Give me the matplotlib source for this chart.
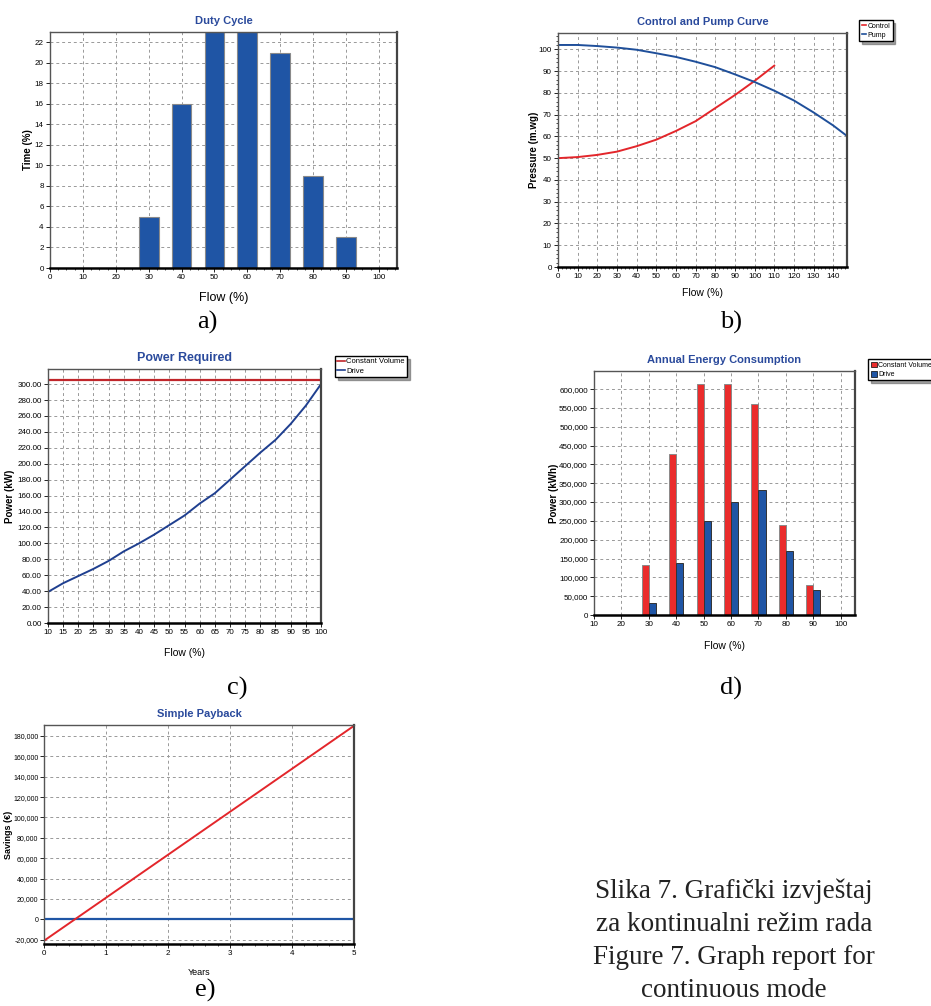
import numpy as np
import matplotlib
matplotlib.use("Agg")
from matplotlib import pyplot as plt
from matplotlib.ticker import MultipleLocator, FuncFormatter
from matplotlib.lines import Line2D
from matplotlib.patches import Patch

# a) duty cycle
duty_flow = [30, 40, 50, 60, 70, 80, 90]
duty_time = [5, 16, 23, 23, 21, 9, 3]

# b) control and pump curve
ctrl_flow = [0, 10, 20, 30, 40, 50, 60, 70, 80, 90, 100, 110]
ctrl_pres = [50, 50.5, 51.5, 53, 55.5, 58.5, 62.5, 67, 73, 79, 85.5, 92.5]
pump_flow = [0, 10, 20, 30, 40, 50, 60, 70, 80, 90, 100, 110, 120, 130, 140, 148]
pump_pres = [102, 102, 101.5, 100.8, 99.8, 98.2, 96.5, 94.3, 91.8, 88.5, 85, 81, 76.5, 71, 65, 59.5]

# c) power required
pow_flow = [10, 15, 20, 25, 30, 35, 40, 45, 50, 55, 60, 65, 70, 75, 80, 85, 90, 95, 100]
pow_drive = [39, 50, 59, 68, 78, 90, 100, 111, 123, 135, 150, 163, 180, 197, 214, 230, 250, 273, 300]
pow_const = 305

# d) annual energy consumption
en_flow = [30, 40, 50, 60, 70, 80, 90]
en_const = [133000, 427000, 614000, 614000, 561000, 240000, 79000]
en_drive = [33000, 139000, 249000, 301000, 331000, 170000, 66000]

# e) simple payback
pay_years = [0, 5]
pay_savings = [-21000, 190000]

W, H = 931, 1006
BLUE_T = '#2a4a9c'

plt.rcParams['font.family'] = ['Liberation Sans', 'DejaVu Sans']


def rect(l, r, t, b):
    return [l / W, 1 - b / H, (r - l) / W, (b - t) / H]


def style(ax, title, xlabel, ylabel, ylab_x, xlab_y):
    ax.set_title(title, color=BLUE_T, fontsize=8, fontweight='bold', pad=6)
    ax.set_xlabel(xlabel, fontsize=7.5)
    ax.set_ylabel(ylabel, fontsize=7, fontweight='bold')
    ax.yaxis.set_label_coords(ylab_x, 0.5)
    ax.xaxis.set_label_coords(0.5, xlab_y)
    ax.grid(True, linestyle=(0, (3, 3)), color='#999999', linewidth=0.7)
    ax.set_axisbelow(True)
    ax.tick_params(labelsize=5.8, length=3, width=0.6, pad=1.5)
    ax.tick_params(which='minor', length=1.5, width=0.5)
    for s in ['left', 'top']:
        ax.spines[s].set_color('#555555')
        ax.spines[s].set_linewidth(1.0)
    ax.spines['right'].set_color('#444444')
    ax.spines['right'].set_linewidth(1.6)
    ax.spines['bottom'].set_color('black')
    ax.spines['bottom'].set_linewidth(1.8)


fig = plt.figure(figsize=(W / 100, H / 100), dpi=100)

# a)
ax = fig.add_axes(rect(50, 397, 32, 268))
ax.bar(duty_flow, duty_time, width=6, color='#1f55a5', edgecolor='#8a8a8a', linewidth=0.8)
ax.set_xlim(0, 105.5)
ax.set_ylim(0, 23)
ax.xaxis.set_major_locator(MultipleLocator(10))
ax.xaxis.set_minor_locator(MultipleLocator(2.5))
ax.yaxis.set_major_locator(MultipleLocator(2))
style(ax, 'Duty Cycle', 'Flow (%)', 'Time (%)', -0.05, -0.10)
ax.xaxis.label.set_fontsize(9)

# b)
ax = fig.add_axes(rect(558, 847, 33, 267))
ax.plot(ctrl_flow, ctrl_pres, color='#e3262b', linewidth=1.4)
ax.plot(pump_flow, pump_pres, color='#1f4f9a', linewidth=1.4)
ax.set_xlim(0, 147)
ax.set_ylim(0, 107.5)
ax.xaxis.set_major_locator(MultipleLocator(10))
ax.xaxis.set_minor_locator(MultipleLocator(2))
ax.yaxis.set_major_locator(MultipleLocator(10))
ax.yaxis.set_minor_locator(MultipleLocator(2))
style(ax, 'Control and Pump Curve', 'Flow (%)', 'Pressure (m.wg)', -0.065, -0.09)
fig.legend(handles=[Line2D([], [], color='#e3262b', lw=1.2, label='Control'),
                    Line2D([], [], color='#1f4f9a', lw=1.2, label='Pump')],
           loc='upper left', bbox_to_anchor=(856 / W, 1 - 17 / H), fontsize=5,
           handlelength=0.7, handletextpad=0.2, borderpad=0.3, labelspacing=0.3,
           fancybox=False, shadow=True, edgecolor='black', framealpha=1)

# c)
ax = fig.add_axes(rect(48, 321, 369, 623))
ax.axhline(pow_const, color='#c0262b', linewidth=1.6)
ax.plot(pow_flow, pow_drive, color='#1f3f8f', linewidth=1.4)
ax.set_xlim(10, 100)
ax.set_ylim(0, 319)
ax.xaxis.set_major_locator(MultipleLocator(5))
ax.yaxis.set_major_locator(MultipleLocator(20))
ax.yaxis.set_major_formatter(FuncFormatter(lambda v, p: '%.2f' % v))
style(ax, 'Power Required', 'Flow (%)', 'Power (kW)', -0.12, -0.10)
ax.title.set_fontsize(9)
fig.legend(handles=[Line2D([], [], color='#c0262b', lw=1.2, label='Constant Volume'),
                    Line2D([], [], color='#1f3f8f', lw=1.2, label='Drive')],
           loc='upper left', bbox_to_anchor=(331 / W, 1 - 352 / H), fontsize=5.5,
           handlelength=1.0, handletextpad=0.2, borderpad=0.3, labelspacing=0.3,
           fancybox=False, shadow=True, edgecolor='black', framealpha=1)

# d)
ax = fig.add_axes(rect(594, 855, 371, 615))
x = np.array(en_flow)
ax.bar(x - 1.3, en_const, width=2.6, color='#ea2c2c', edgecolor='#8a8a8a', linewidth=0.7)
ax.bar(x + 1.3, en_drive, width=2.6, color='#1f55a5', edgecolor='#333333', linewidth=0.7)
ax.set_xlim(10, 105.2)
ax.set_ylim(0, 648000)
ax.xaxis.set_major_locator(MultipleLocator(10))
ax.yaxis.set_major_locator(MultipleLocator(50000))
ax.yaxis.set_major_formatter(FuncFormatter(lambda v, p: '{:,.0f}'.format(v)))
style(ax, 'Annual Energy Consumption', 'Flow (%)', 'Power (kWh)', -0.135, -0.105)
fig.legend(handles=[Patch(facecolor='#ea2c2c', edgecolor='black', lw=0.5, label='Constant Volume'),
                    Patch(facecolor='#1f55a5', edgecolor='black', lw=0.5, label='Drive')],
           loc='upper left', bbox_to_anchor=(865 / W, 1 - 356 / H), fontsize=5,
           handlelength=0.9, handleheight=0.9, handletextpad=0.2, borderpad=0.3,
           labelspacing=0.3, fancybox=False, shadow=True, edgecolor='black', framealpha=1)

# e)
ax = fig.add_axes(rect(44, 354, 725, 944))
ax.axhline(0, color='#1f55a5', linewidth=1.6)
ax.plot(pay_years, pay_savings, color='#e3262b', linewidth=1.4)
ax.set_xlim(0, 5)
ax.set_ylim(-24200, 190800)
ax.xaxis.set_major_locator(MultipleLocator(1))
ax.xaxis.set_minor_locator(MultipleLocator(0.2))
ax.yaxis.set_major_locator(MultipleLocator(20000))
ax.yaxis.set_major_formatter(FuncFormatter(lambda v, p: '{:,.0f}'.format(v)))
style(ax, 'Simple Payback', 'Years', 'Savings (€)', -0.10, -0.11)
ax.tick_params(axis='y', labelsize=5, pad=1)
ax.yaxis.label.set_fontsize(6.5)
ax.xaxis.label.set_fontsize(6.5)

# panel letters and caption
serif = 'Liberation Serif'
for lab, px, py in [('a)', 207, 322), ('b)', 731, 322), ('c)', 237, 688),
                    ('d)', 731, 688), ('e)', 205, 990)]:
    fig.text(px / W, 1 - py / H, lab, family=serif, fontsize=19, ha='center', va='center')

fig.text(734 / W, 1 - 941 / H,
         'Slika 7. Grafički izvještaj\nza kontinualni režim rada\n'
         'Figure 7. Graph report for\ncontinuous mode',
         family=serif, fontsize=19.5, ha='center', va='center', linespacing=1.42,
         color='#222222')

fig.savefig('out.png', dpi=100)
